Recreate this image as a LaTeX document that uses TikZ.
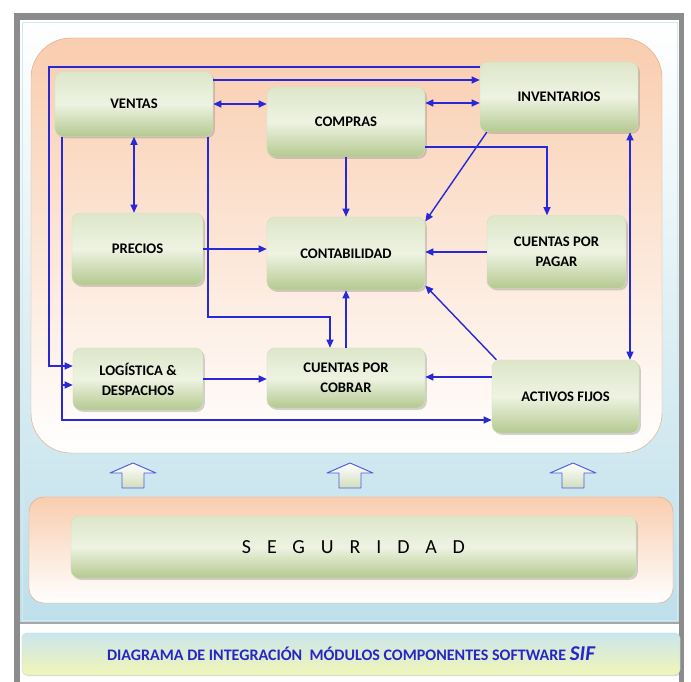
\documentclass[tikz,border=0pt]{standalone}
\usepackage{fontspec}
\setmainfont{Carlito}
\usetikzlibrary{arrows.meta, calc, shadows}

\definecolor{linea}{RGB}{40,40,215}
\definecolor{verdeclaro}{RGB}{238,243,226}
\definecolor{verdeosc}{RGB}{180,201,144}
\definecolor{durazno}{RGB}{249,205,175}
\definecolor{bordenaranja}{RGB}{226,170,130}
\definecolor{celeste}{RGB}{190,223,234}
\definecolor{marcogris}{RGB}{140,140,140}
\definecolor{titulo}{RGB}{38,38,200}
\definecolor{flechaazul}{RGB}{75,90,230}

\begin{document}
\begin{tikzpicture}[x=0.03cm,y=-0.03cm]
    \tikzset{modulo/.style={rectangle, rounded corners=0.24cm, inner sep=0pt, align=center,
            top color=verdeclaro!70!verdeosc, bottom color=verdeosc, middle color=verdeclaro,
            draw=verdeosc!60, thin,
            drop shadow={shadow xshift=1.5pt, shadow yshift=-1.5pt, opacity=0.35},
            font=\bfseries\fontsize{12.5}{17}\selectfont},
        flecha/.style={draw=linea, line width=1.2pt, -{Triangle[length=7pt,width=6pt]}},
        doble/.style={flecha, {Triangle[length=7pt,width=6pt]}-{Triangle[length=7pt,width=6pt]}}}

    \useasboundingbox (0,0) rectangle (691,682);

    % fondo y marco
    \shade[top color=white, bottom color=celeste] (20,20) rectangle (679,622);
    \draw[celeste!70, thin] (22,22) rectangle (677,620);
    \draw[gray!70, line width=1.2pt] (20,623) -- (679,623);
    \fill[marcogris] (14,13) rectangle (684,20);
    \fill[marcogris] (14,13) rectangle (20,682);
    \fill[marcogris] (679,13) rectangle (684,682);

    % zona de modulos
    \path[draw=bordenaranja, top color=durazno, bottom color=white, rounded corners=1.2cm]
        (31,38) rectangle (662,453);

    \node[modulo, minimum width=4.74cm, minimum height=1.95cm] (ventas) at (134,104) {VENTAS};
    \node[modulo, minimum width=4.74cm, minimum height=2.1cm] (compras) at (346,122) {COMPRAS};
    \node[modulo, minimum width=4.74cm, minimum height=2.1cm] (inventarios) at (559,97) {INVENTARIOS};
    \node[modulo, minimum width=3.93cm, minimum height=2.16cm] (precios) at (137.5,249) {PRECIOS};
    \node[modulo, minimum width=4.74cm, minimum height=2.19cm] (contabilidad) at (346,253.5) {CONTABILIDAD};
    \node[modulo, minimum width=4.17cm, minimum height=2.19cm] (cxp) at (556.5,252) {CUENTAS POR\\PAGAR};
    \node[modulo, minimum width=3.9cm, minimum height=1.86cm] (logistica) at (138,379) {LOGÍSTICA \&\\DESPACHOS};
    \node[modulo, minimum width=4.74cm, minimum height=1.8cm] (cxc) at (346,378) {CUENTAS POR\\COBRAR};
    \node[modulo, minimum width=4.41cm, minimum height=2.19cm] (activos) at (565.5,396.5) {ACTIVOS FIJOS};

    \coordinate (busizq) at (49,67);
    \coordinate (buslog) at (49,366);
    \coordinate (busint) at (62,420);
    \coordinate (buslog2) at (62,385);
    \coordinate (busven) at (208,317);
    \coordinate (buscxc) at (330,317);
    \coordinate (buscxp) at (547,147);
    \coordinate (nivelvi) at (0,80);
    \coordinate (nivelci) at (0,103);
    \coordinate (nivelac) at (0,377);
    \coordinate (nivelinv) at (630,0);

    \draw[doble] (ventas.east) -- (ventas.east -| compras.west);
    \draw[doble] (compras.east |- nivelci) -- (inventarios.west |- nivelci);
    \draw[doble] (ventas.south) -- (ventas.south |- precios.north);
    \draw[doble] (inventarios.south -| nivelinv) -- (activos.north -| nivelinv);
    \draw[flecha] (inventarios.west |- busizq) -- (busizq) -- (buslog) -- (logistica.west |- buslog);
    \draw[flecha] (ventas.east |- nivelvi) -- (inventarios.west |- nivelvi);
    \draw[flecha] (ventas.south -| busint) -- (busint) -- (activos.west |- busint);
    \draw[flecha] (buslog2) -- (logistica.west |- buslog2);
    \draw[flecha] (ventas.south -| busven) -- (busven) -- (buscxc) -- (cxc.north -| buscxc);
    \draw[flecha] (precios.east) -- (precios.east -| contabilidad.west);
    \draw[flecha] (compras.south) -- (contabilidad.north);
    \draw[flecha] (compras.east |- buscxp) -- (buscxp) -- (cxp.north -| buscxp);
    \draw[flecha] (inventarios.206) -- (contabilidad.22);
    \draw[flecha] (cxp.west) -- (cxp.west -| contabilidad.east);
    \draw[flecha] (activos.152) -- (contabilidad.-22);
    \draw[flecha] (activos.west |- nivelac) -- (cxc.east |- nivelac);
    \draw[flecha] (cxc.north) -- (contabilidad.south);
    \draw[flecha] (logistica.east) -- (logistica.east -| cxc.west);

    % flechas de seguridad
    \foreach \x in {133,350,573}
        \path[draw=flechaazul, thick, top color=white, bottom color=verdeosc!60, line join=round]
            (\x,463) -- (\x+23,473) -- (\x+11,473) -- (\x+11,488) -- (\x-11,488)
            -- (\x-11,473) -- (\x-23,473) -- cycle;

    % seguridad
    \path[draw=bordenaranja, top color=durazno, bottom color=white, rounded corners=0.45cm]
        (29,497) rectangle (673,603);
    \node[modulo, minimum width=16.95cm, minimum height=1.86cm,
        font=\fontsize{17}{20}\selectfont\addfontfeatures{LetterSpace=80}] (seguridad) at (353.5,547) {SEGURIDAD};

    % titulo
    \node[rounded corners=0.15cm, top color=celeste!80, bottom color=verdeclaro!80!yellow,
        draw=celeste, minimum width=19.74cm, minimum height=1.26cm,
        drop shadow={shadow xshift=1pt, shadow yshift=-1pt, opacity=0.3},
        font=\bfseries\fontsize{13.7}{15}\selectfont, text=titulo] (titulo) at (351,654)
        {DIAGRAMA DE INTEGRACIÓN\ \ MÓDULOS COMPONENTES SOFTWARE {\itshape\fontsize{18}{19}\selectfont SIF}};
\end{tikzpicture}
\end{document}
